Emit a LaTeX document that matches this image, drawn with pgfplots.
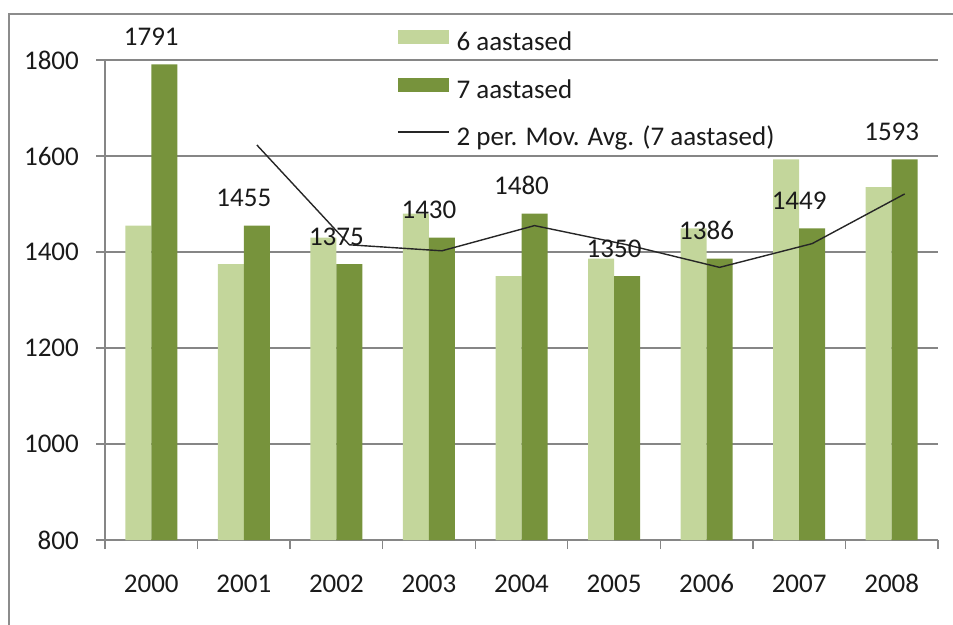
\documentclass[border=0pt]{standalone}
\usepackage{pgfplots}
\pgfplotsset{compat=1.18}
\usepackage{fontspec}
\setmainfont{Carlito}
\definecolor{lightg}{HTML}{C3D69B}
\definecolor{darkg}{HTML}{77933C}
\definecolor{gridc}{HTML}{868686}
\definecolor{framec}{HTML}{8C8C8C}
\definecolor{txt}{HTML}{1A1A1A}
\begin{document}
\begin{tikzpicture}[font=\fontsize{27bp}{32bp}\selectfont]
\useasboundingbox (0,0) rectangle (953bp,-625bp);
\draw[framec, line width=2.5bp] (9bp,-14bp) rectangle (990bp,-670bp);
\begin{axis}[
  at={(105bp,-540bp)}, anchor=south west,
  scale only axis, width=833bp, height=480bp,
  xmin=-0.5, xmax=8.5, ymin=800, ymax=1800,
  enlargelimits=false,
  axis lines*=left,
  axis line style={gridc, line width=1.3bp},
  ytick={800,1000,...,1800},
  xtick={-0.5,0.5,...,8.5},
  xticklabels={},
  extra x ticks={0,1,2,3,4,5,6,7,8},
  extra x tick labels={2000,2001,2002,2003,2004,2005,2006,2007,2008},
  extra x tick style={major tick length=0pt, grid=none},
  ymajorgrids,
  grid style={gridc, line width=1.3bp},
  tick style={gridc, line width=1.3bp},
  tick align=outside,
  major tick length=9bp,
  scaled y ticks=false,
  /pgf/number format/1000 sep={},
  /pgf/number format/assume math mode=true,
  tick label style={text=txt},
  yticklabel style={anchor=east, inner sep=0pt, xshift=-17bp},
  xticklabel style={anchor=base, inner sep=0pt, yshift=-52bp},
  legend style={at={(0.3505,1.062)}, anchor=north west, draw=none, fill=none,
    inner sep=0pt, row sep=21.5bp, column sep=7bp,
    nodes={inner sep=0pt, text height=19bp, text depth=6bp, text=txt}},
  legend cell align=left,
  clip=false,
]
\addplot[ybar, bar width=26bp, bar shift=-13bp, fill=lightg, draw=none,
  legend image code/.code={\fill[lightg] (0bp,0bp) rectangle (51bp,14bp);}]
  coordinates {(0,1455) (1,1375) (2,1430) (3,1480) (4,1350) (5,1386) (6,1449) (7,1593) (8,1535)};
\addlegendentry{6 aastased}
\addplot[ybar, bar width=26bp, bar shift=13bp, fill=darkg, draw=none,
  nodes near coords,
  every node near coord/.append style={anchor=base, inner sep=0pt, yshift=19bp, text=txt},
  legend image code/.code={\fill[darkg] (0bp,0bp) rectangle (51bp,14bp);}]
  coordinates {(0,1791) (1,1455) (2,1375) (3,1430) (4,1480) (5,1350) (6,1386) (7,1449) (8,1593)};
\addlegendentry{7 aastased}
\addplot[sharp plot, mark=none, color=black!85, line width=1.4bp, xshift=13bp,
  legend image code/.code={\draw[black!85, line width=1.4bp, xshift=-13bp] (0bp,7bp) -- (51bp,7bp);}]
  coordinates {(1,1623) (2,1415) (3,1402.5) (4,1455) (5,1415) (6,1368) (7,1417.5) (8,1521)};
\addlegendentry{2 per. Mov. Avg. (7 aastased)}
\end{axis}
\end{tikzpicture}
\end{document}
